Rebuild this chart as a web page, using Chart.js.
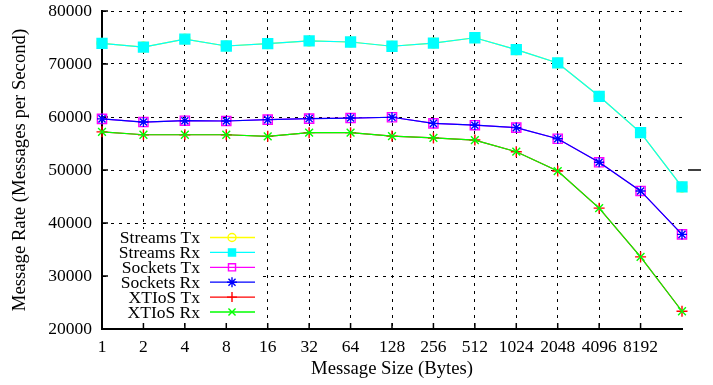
<!DOCTYPE html>
<html><head><meta charset="utf-8">
<script src="https://cdn.jsdelivr.net/npm/chart.js@4/dist/chart.umd.min.js"></script>
<style>html,body{margin:0;padding:0;background:#fff}#wrap{width:713px;height:385px}</style>
</head><body><div id="wrap"><canvas id="c" width="713" height="385"></canvas></div>
<script>
const categories = ['1','2','4','8','16','32','64','128','256','512','1024','2048','4096','8192','16384'];
const tickLabels = ['1','2','4','8','16','32','64','128','256','512','1024','2048','4096','8192',''];
const yTicks = [20000,30000,40000,50000,60000,70000,80000];
const streamsTx = [73900,73200,74700,73400,73850,74350,74150,73350,73950,74950,72700,70200,63900,57050,46800];
const streamsRx = [73900,73200,74700,73400,73850,74350,74150,73350,73950,74950,72700,70200,63900,57050,46800];
const socketsTx = [59650,59050,59300,59250,59500,59700,59800,59950,58800,58450,58000,55900,51450,46050,37850];
const socketsRx = [59650,59050,59300,59250,59500,59700,59800,59950,58800,58450,58000,55900,51450,46050,37850];
const xtiosTx = [57200,56650,56650,56650,56350,57050,57050,56400,56050,55650,53450,49800,42800,33600,23350];
const xtiosRx = [57200,56650,56650,56650,56350,57050,57050,56400,56050,55650,53450,49800,42800,33600,23350];
const seriesNames = ['Streams Tx','Streams Rx','Sockets Tx','Sockets Rx','XTIoS Tx','XTIoS Rx'];

const FONT = 'Liberation Serif, Times New Roman, serif';
const FS = 17.5;
const TFS = 18.7;
Chart.defaults.font.family = FONT;
Chart.defaults.font.size = FS;
Chart.defaults.color = '#000';

function ds(label, data, color, style, radius, filled, order) {
  return {label, data, borderColor: color, backgroundColor: filled ? color : 'rgba(0,0,0,0)',
    pointStyle: style, pointRadius: radius, pointHoverRadius: radius, pointBorderWidth: 1.4,
    pointBorderColor: color, pointBackgroundColor: filled ? color : 'rgba(0,0,0,0)',
    borderWidth: 1.2, tension: 0, fill: false, order};
}

function drawMarker(ctx, style, x, y, r, color, filled) {
  ctx.save();
  ctx.strokeStyle = color; ctx.fillStyle = color; ctx.lineWidth = 1.4;
  ctx.beginPath();
  const d = r * Math.SQRT1_2;
  if (style === 'circle') { ctx.arc(x, y, r, 0, Math.PI*2); }
  else if (style === 'rect') { ctx.rect(x-d, y-d, 2*d, 2*d); }
  else if (style === 'cross') { ctx.moveTo(x, y-r); ctx.lineTo(x, y+r); ctx.moveTo(x-r, y); ctx.lineTo(x+r, y); }
  else if (style === 'crossRot') { ctx.moveTo(x-d, y-d); ctx.lineTo(x+d, y+d); ctx.moveTo(x-d, y+d); ctx.lineTo(x+d, y-d); }
  else if (style === 'star') { ctx.moveTo(x, y-r); ctx.lineTo(x, y+r); ctx.moveTo(x-r, y); ctx.lineTo(x+r, y);
    ctx.moveTo(x-d, y-d); ctx.lineTo(x+d, y+d); ctx.moveTo(x-d, y+d); ctx.lineTo(x+d, y-d); }
  if (filled) ctx.fill();
  ctx.stroke();
  ctx.restore();
}

const keyPlugin = {
  id: 'keyPlugin',
  beforeDatasetsDraw(chart) {
    const {ctx, chartArea: a, scales: {x, y}} = chart;
    ctx.save();
    ctx.fillStyle = '#fff';
    ctx.fillRect(a.left + 5, a.bottom - 100, 155, 93);
    ctx.restore();
    ctx.save();
    ctx.strokeStyle = '#000'; ctx.lineWidth = 1.5; ctx.beginPath();
    x.ticks.forEach((t, i) => { if (!tickLabels[i]) return; const px = x.getPixelForTick(i); ctx.moveTo(px, a.bottom); ctx.lineTo(px, a.bottom - 6); });
    y.ticks.forEach((t, i) => { const py = y.getPixelForTick(i); ctx.moveTo(a.left, py); ctx.lineTo(a.left + 6, py); });
    ctx.stroke();
    const py = y.getPixelForValue(50000);
    ctx.lineWidth = 1.5; ctx.beginPath(); ctx.moveTo(a.right + 6, py); ctx.lineTo(a.right + 19, py); ctx.stroke();
    ctx.restore();
    ctx.save();
    ctx.font = FS + 'px ' + FONT;
    ctx.textAlign = 'right'; ctx.textBaseline = 'middle'; ctx.fillStyle = '#000';
    chart.data.datasets.forEach((d, i) => {
      const yy = a.bottom - 91.5 + i * 14.9;
      ctx.fillText(seriesNames[i], a.left + 98, yy + 1);
      ctx.save(); ctx.strokeStyle = d.borderColor; ctx.lineWidth = 1.3;
      ctx.beginPath(); ctx.moveTo(a.left + 108, yy); ctx.lineTo(a.left + 153, yy); ctx.stroke(); ctx.restore();
      const filled = d.pointBackgroundColor !== 'rgba(0,0,0,0)';
      drawMarker(ctx, d.pointStyle, a.left + 130, yy, d.pointStyle === 'circle' ? 4 : 5, d.borderColor, filled);
    });
    ctx.restore();
  }
};

new Chart(document.getElementById('c'), {
  type: 'line',
  data: {
    labels: categories,
    datasets: [
      ds(seriesNames[0], streamsTx, '#ffff00', 'circle', 5, false, 6),
      ds(seriesNames[1], streamsRx, '#00ffff', 'rect', 7, true, 5),
      ds(seriesNames[2], socketsTx, '#ff00ff', 'rect', 6.5, false, 4),
      ds(seriesNames[3], socketsRx, '#0000ff', 'star', 5, false, 3),
      ds(seriesNames[4], xtiosTx, '#ff0000', 'cross', 5.5, false, 2),
      ds(seriesNames[5], xtiosRx, '#00ff00', 'crossRot', 5.5, false, 1)
    ]
  },
  options: {
    responsive: false, animation: false, devicePixelRatio: 1,
    layout: {padding: {top: 11, right: 31, left: 0, bottom: 0}},
    plugins: {legend: {display: false}, tooltip: {enabled: false}},
    scales: {
      x: {
        type: 'category', offset: false,
        afterFit(s) { s.height = 56; s.paddingLeft = 0; s.paddingRight = 0; },
        grid: {color: (c) => (c.index === categories.length - 1 ? 'rgba(0,0,0,0)' : '#000'), lineWidth: 1, drawTicks: false},
        border: {display: true, color: '#000', width: 2, dash: [3, 5]},
        ticks: {autoSkip: false, maxRotation: 0, padding: 8, callback: (v, i) => tickLabels[i]},
        title: {display: true, text: 'Message Size (Bytes)', font: {size: TFS}, padding: {top: 0, bottom: 5}}
      },
      y: {
        min: 20000, max: 80000,
        afterFit(s) { s.width = 102; s.paddingTop = 0; s.paddingBottom = 0; },
        afterBuildTicks(s) { s.ticks = yTicks.map(v => ({value: v})); },
        grid: {color: '#000', lineWidth: 1, drawTicks: false},
        border: {display: true, color: '#000', width: 2, dash: [3, 5]},
        ticks: {padding: 10, callback: (v) => String(v)},
        title: {display: true, text: 'Message Rate (Messages per Second)', font: {size: TFS}, padding: {top: 9, bottom: 0}}
      }
    }
  },
  plugins: [keyPlugin]
});
</script>
</body></html>
